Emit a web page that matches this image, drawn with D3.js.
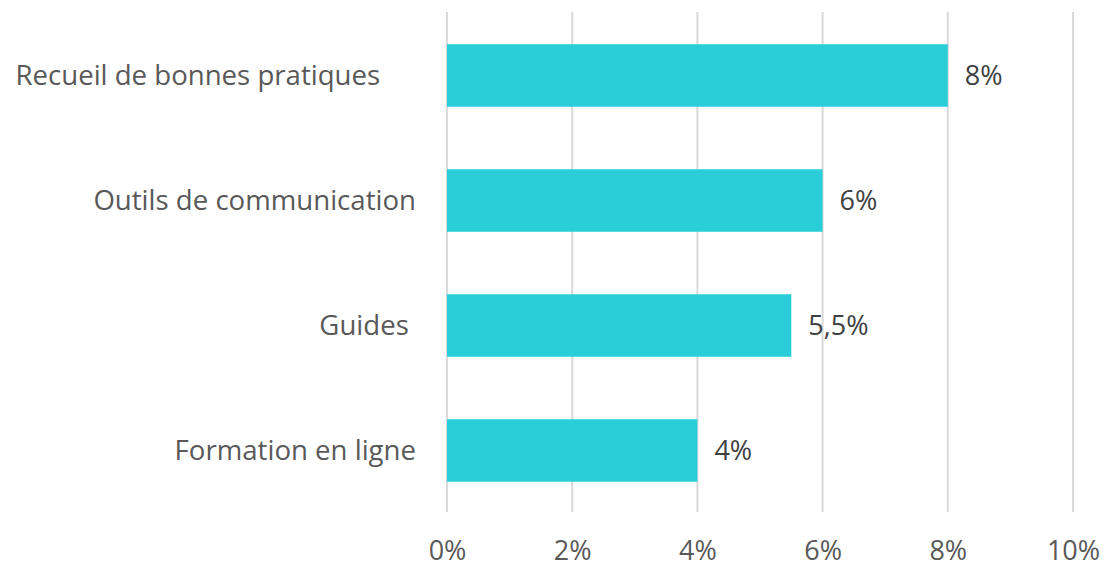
<!DOCTYPE html>
<meta charset="utf-8">
<body style="margin:0;background:#fff">
  <div id="graph"></div>
  <script src="https://d3js.org/d3.v7.min.js"></script>
  <script>
    // categories, top to bottom (trailing spaces kept as in the source labels)
    var categories = ["Recueil de bonnes pratiques     ", "Outils de communication", "Guides ", "Formation en ligne"];
    var values = [8, 6, 5.5, 4];
    var valueLabels = ["8%", "6%", "5,5%", "4%"];
    var ticks = [0, 2, 4, 6, 8, 10];

    var width = 1106, height = 565;
    var margin = {top: 13, right: 33, bottom: 52, left: 447};

    var svg = d3.select("#graph").append("svg")
      .attr("width", width)
      .attr("height", height)
      .style("font-family", "'Open Sans', sans-serif");

    var x = d3.scaleLinear()
      .domain([0, 10])
      .range([margin.left, 1073]);

    var y = d3.scaleBand()
      .domain(categories)
      .range([margin.top, 513])
      .paddingInner(0.5)
      .paddingOuter(0.25);

    // gridlines
    svg.append("g")
      .selectAll("line")
      .data(ticks)
      .enter().append("line")
      .attr("x1", function(d) { return x(d); })
      .attr("x2", function(d) { return x(d); })
      .attr("y1", 12)
      .attr("y2", 512)
      .attr("stroke", "#d9d9d9")
      .attr("stroke-width", 2);

    // x axis labels
    var xAxis = d3.axisBottom(x)
      .tickValues(ticks)
      .tickSize(0)
      .tickPadding(0)
      .tickFormat(function(d) { return d + "%"; });

    var gx = svg.append("g")
      .attr("transform", "translate(0,560)")
      .call(xAxis);
    gx.select(".domain").remove();
    gx.selectAll("text")
      .attr("fill", "#595959")
      .attr("dy", null)
      .attr("y", 0)
      .style("font-size", "27px")
      .style("font-family", "'Open Sans', sans-serif");

    // bars
    svg.selectAll(".bar")
      .data(values)
      .enter().append("rect")
      .attr("class", "bar")
      .attr("fill", "#29ced8")
      .attr("x", x(0))
      .attr("y", function(d, i) { return y(categories[i]); })
      .attr("width", function(d) { return x(d) - x(0); })
      .attr("height", y.bandwidth());

    // value labels
    svg.selectAll(".val")
      .data(values)
      .enter().append("text")
      .attr("class", "val")
      .attr("x", function(d) { return x(d) + 17; })
      .attr("y", function(d, i) { return y(categories[i]) + y.bandwidth() / 2; })
      .attr("dy", "0.36em")
      .attr("fill", "#404040")
      .style("font-size", "27px")
      .text(function(d, i) { return valueLabels[i]; });

    // category labels
    svg.selectAll(".cat")
      .data(categories)
      .enter().append("text")
      .attr("class", "cat")
      .attr("x", 416)
      .attr("y", function(d) { return y(d) + y.bandwidth() / 2; })
      .attr("dy", "0.36em")
      .attr("text-anchor", "end")
      .attr("fill", "#595959")
      .style("font-size", "27.6px")
      .style("white-space", "pre")
      .text(function(d) { return d; });
  </script>
</body>
